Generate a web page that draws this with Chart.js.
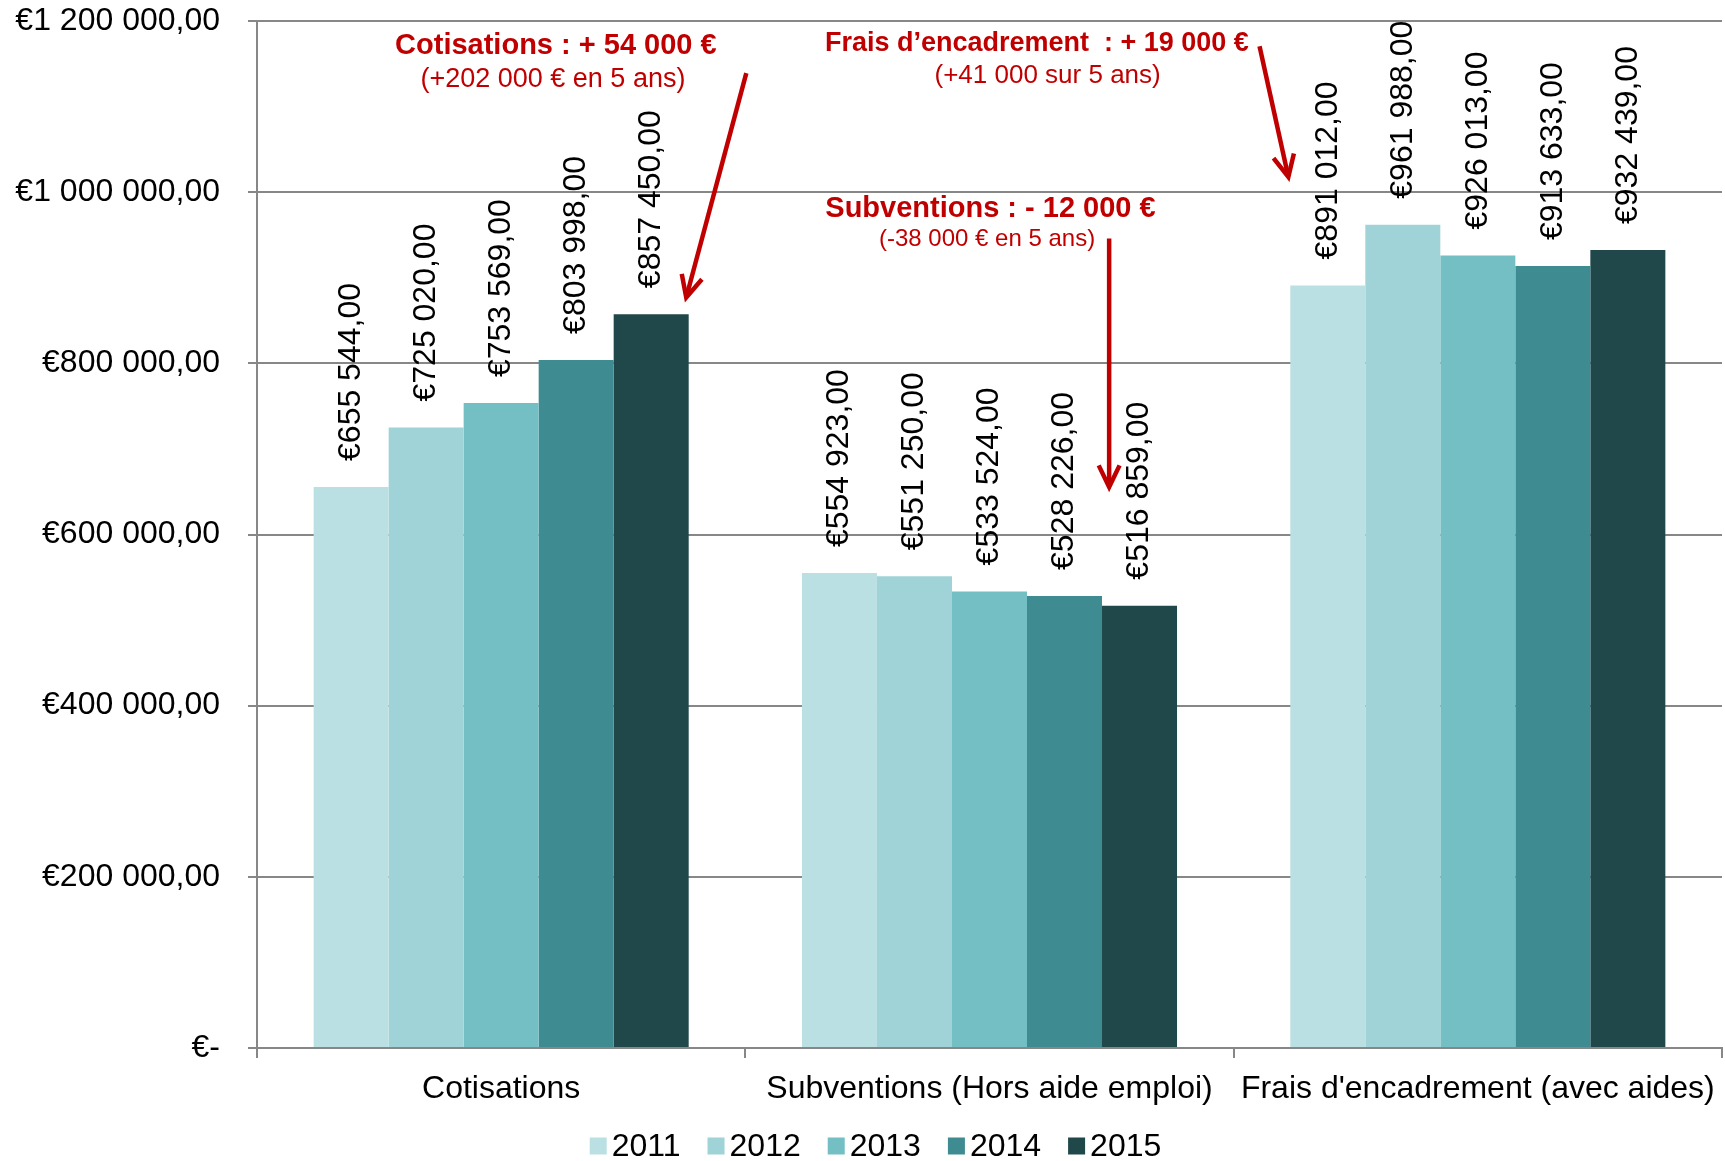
<!DOCTYPE html>
<html>
<head>
<meta charset="utf-8">
<script src="https://cdn.jsdelivr.net/npm/chart.js@4.4.1/dist/chart.umd.min.js"></script>
<style>
  html, body { margin: 0; padding: 0; background: #fff; }
  #wrap { width: 1725px; height: 1161px; }
</style>
</head>
<body>
<div id="wrap"><canvas id="chart" width="1725" height="1161"></canvas></div>
<script>
// data
const categories = ['Cotisations', 'Subventions (Hors aide emploi)', "Frais d'encadrement (avec aides)"]
const years = ['2011', '2012', '2013', '2014', '2015']
const values2011 = [655544, 554923, 891012]
const values2012 = [725020, 551250, 961988]
const values2013 = [753569, 533524, 926013]
const values2014 = [803998, 528226, 913633]
const values2015 = [857450, 516859, 932439]
const yearColors = ['#bbe0e3', '#a0d3d7', '#74bfc4', '#3e8c91', '#20474a']
const yMin = 0
const yMax = 1200000
const yStep = 200000

// red notes, placed by category index + fraction of category width, and by value
const notes = [
  { text: 'Cotisations : + 54 000 €', bold: true, size: 29, cat: 0, dx: 0.112, v: 1162000 },
  { text: '(+202 000 € en 5 ans)', bold: false, size: 27, cat: 0, dx: 0.106, v: 1123000 },
  { text: 'Frais d’encadrement  : + 19 000 €', bold: true, size: 27, cat: 1, dx: 0.097, v: 1164500 },
  { text: '(+41 000 sur 5 ans)', bold: false, size: 26, cat: 1, dx: 0.119, v: 1128000 },
  { text: 'Subventions : - 12 000 €', bold: true, size: 29, cat: 1, dx: 0.002, v: 971000 },
  { text: '(-38 000 € en 5 ans)', bold: false, size: 24, cat: 1, dx: -0.005, v: 937300 }
]
const arrows = [
  { cat: 0, dx0: 0.502, v0: 1139000, dx1: 0.379, v1: 877000 },
  { cat: 1, dx0: 0.553, v0: 1170500, dx1: 0.612, v1: 1017800 },
  { cat: 1, dx0: 0.245, v0: 945800, dx1: 0.245, v1: 655500 }
]

const FONT = 'Arial, "Liberation Sans", sans-serif'
const RED = '#c00000'
const GRID = '#878787'

function fmtEuro(v) {
  if (v === 0) return '€-'
  return '€' + String(Math.round(v)).replace(/\B(?=(\d{3})+(?!\d))/g, ' ') + ',00'
}

const seriesValues = [values2011, values2012, values2013, values2014, values2015]

const labelPlugin = {
  id: 'barLabels',
  afterDatasetsDraw(chart) {
    const ctx = chart.ctx
    ctx.save()
    ctx.fillStyle = '#000'
    ctx.font = '32px ' + FONT
    ctx.textAlign = 'left'
    ctx.textBaseline = 'middle'
    chart.data.datasets.forEach((ds, i) => {
      const meta = chart.getDatasetMeta(i)
      meta.data.forEach((bar, j) => {
        ctx.save()
        ctx.translate(bar.x, bar.y - 26)
        ctx.rotate(-Math.PI / 2)
        ctx.fillText(fmtEuro(ds.data[j]), 0, 0)
        ctx.restore()
      })
    })
    ctx.restore()
  }
}

const notesPlugin = {
  id: 'notes',
  afterDraw(chart) {
    const ctx = chart.ctx
    const xs = chart.scales.x
    const ys = chart.scales.y
    const cw = (chart.chartArea.right - chart.chartArea.left) / categories.length
    ctx.save()
    ctx.fillStyle = RED
    ctx.textAlign = 'center'
    ctx.textBaseline = 'alphabetic'
    notes.forEach(n => {
      ctx.font = (n.bold ? 'bold ' : '') + n.size + 'px ' + FONT
      ctx.fillText(n.text, xs.getPixelForValue(n.cat) + n.dx * cw, ys.getPixelForValue(n.v))
    })
    ctx.strokeStyle = RED
    ctx.lineWidth = 4.5
    ctx.lineCap = 'butt'
    ctx.lineJoin = 'miter'
    arrows.forEach(a => {
      const x0 = xs.getPixelForValue(a.cat) + a.dx0 * cw
      const y0 = ys.getPixelForValue(a.v0)
      const x1 = xs.getPixelForValue(a.cat) + a.dx1 * cw
      const y1 = ys.getPixelForValue(a.v1)
      const ang = Math.atan2(y1 - y0, x1 - x0)
      const head = 24
      const spread = 0.45
      ctx.beginPath()
      ctx.moveTo(x0, y0)
      ctx.lineTo(x1 - Math.cos(ang) * 3, y1 - Math.sin(ang) * 3)
      ctx.stroke()
      ctx.beginPath()
      ctx.moveTo(x1 - head * Math.cos(ang - spread), y1 - head * Math.sin(ang - spread))
      ctx.lineTo(x1, y1)
      ctx.lineTo(x1 - head * Math.cos(ang + spread), y1 - head * Math.sin(ang + spread))
      ctx.stroke()
    })
    ctx.restore()
  }
}

const legendPlugin = {
  id: 'yearLegend',
  afterDraw(chart) {
    const ctx = chart.ctx
    ctx.save()
    ctx.font = '32px ' + FONT
    ctx.textBaseline = 'middle'
    ctx.textAlign = 'left'
    const box = 17, gap = 5, spacing = 27
    const items = chart.data.datasets.map(ds => ({ label: ds.label, color: ds.backgroundColor, w: box + gap + ctx.measureText(ds.label).width }))
    const total = items.reduce((s, it) => s + it.w, 0) + spacing * (items.length - 1)
    let x = chart.width / 2 + 13 - total / 2
    const y = 1146
    items.forEach(it => {
      ctx.fillStyle = it.color
      ctx.fillRect(x, y - box / 2, box, box)
      ctx.fillStyle = '#000'
      ctx.fillText(it.label, x + box + gap, y + 1)
      x += it.w + spacing
    })
    ctx.restore()
  }
}

const ctx = document.getElementById('chart').getContext('2d')
new Chart(ctx, {
  type: 'bar',
  data: {
    labels: categories,
    datasets: years.map((y, i) => ({
      label: y,
      data: seriesValues[i],
      backgroundColor: yearColors[i],
      borderWidth: 0,
      barPercentage: 1,
      categoryPercentage: 0.768
    }))
  },
  options: {
    responsive: false,
    animation: false,
    layout: { padding: { top: 21, right: 3, bottom: 53, left: 0 } },
    plugins: {
      legend: { display: false },
      tooltip: { enabled: false }
    },
    scales: {
      x: {
        grid: { drawOnChartArea: false, drawTicks: true, tickLength: 10, color: GRID, lineWidth: 2, offset: true },
        border: { color: GRID, width: 2 },
        ticks: { color: '#000', font: { family: FONT, size: 32 }, padding: 12, maxRotation: 0, autoSkip: false },
        afterFit(s) { s.height = 60; s.paddingLeft = 0; s.paddingRight = 0 }
      },
      y: {
        min: yMin,
        max: yMax,
        grid: { color: GRID, lineWidth: 2, tickLength: 9, drawTicks: true },
        border: { color: GRID, width: 2 },
        ticks: {
          stepSize: yStep,
          color: '#000',
          font: { family: FONT, size: 32 },
          padding: 28,
          callback: v => fmtEuro(v)
        },
        afterFit(s) { s.width = 257; s.paddingTop = 0; s.paddingBottom = 0 }
      }
    }
  },
  plugins: [labelPlugin, notesPlugin, legendPlugin]
})
</script>
</body>
</html>
